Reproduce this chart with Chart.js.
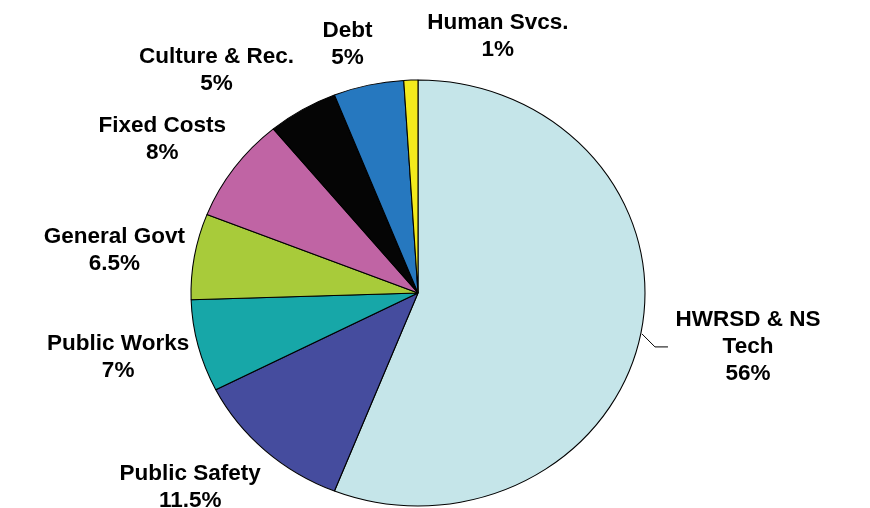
<!DOCTYPE html>
<html>
<head>
<meta charset="utf-8">
<script src="https://cdn.jsdelivr.net/npm/chart.js@4"></script>
<style>
  html, body { margin: 0; padding: 0; background: #fff; }
  #wrap { width: 870px; height: 508px; }
</style>
</head>
<body>
<div id="wrap"><canvas id="budget-pie" width="870" height="508"></canvas></div>
<script>
// budget share by function, clockwise from 12 o'clock
const categories = [
  ["HWRSD & NS", "Tech"],
  ["Public Safety"],
  ["Public Works"],
  ["General Govt"],
  ["Fixed Costs"],
  ["Culture & Rec."],
  ["Debt"],
  ["Human Svcs."],
];
const shares = [56, 11.5, 7, 6.5, 8, 5, 5, 1];
const sliceColors = ["#c5e5e9", "#454c9e", "#17a7a8", "#a8cb3a", "#c064a4", "#050505", "#2678bf", "#f3ea1c"];

// label block centre, relative to the slice's mid-point on the rim
const labelOffsets = [[107, 14], [-75, 37], [-80, 11], [-80, -6], [-72, -29], [-86, -39], [-21, -41], [87, -44]];

const PIE_R = 213;          // vertical radius
const STRETCH = 227 / 213;  // pie is drawn a little wider than tall
const FONT = "bold 22.5px 'Liberation Sans', Arial, sans-serif";
const LINE_H = 27;

const stretchPie = {
  id: "stretchPie",
  beforeDatasetsDraw(chart) {
    const arc = chart.getDatasetMeta(0).data[0];
    const ctx = chart.ctx;
    ctx.save();
    ctx.translate(arc.x, arc.y);
    ctx.scale(STRETCH, 1);
    ctx.translate(-arc.x, -arc.y);
  },
  afterDatasetsDraw(chart) {
    chart.ctx.restore();
  },
};

const sliceLabels = {
  id: "sliceLabels",
  afterDraw(chart) {
    const ctx = chart.ctx;
    const arcs = chart.getDatasetMeta(0).data;
    ctx.save();
    ctx.font = FONT;
    ctx.fillStyle = "#000";
    ctx.textAlign = "center";
    ctx.textBaseline = "middle";
    arcs.forEach((arc, i) => {
      const mid = (arc.startAngle + arc.endAngle) / 2;
      const rx = arc.outerRadius * STRETCH, ry = arc.outerRadius;
      const ex = arc.x + Math.cos(mid) * rx;
      const ey = arc.y + Math.sin(mid) * ry;
      const lines = [...categories[i], shares[i] + "%"];
      const [ox, oy] = labelOffsets[i];
      const cx = ex + ox, cy = ey + oy;

      if (i === 0) {
        // leader from the rim out to the label
        ctx.strokeStyle = "#000";
        ctx.lineWidth = 1;
        ctx.beginPath();
        ctx.moveTo(ex + 1, ey + 1);
        ctx.lineTo(ex + 14, ey + 14);
        ctx.lineTo(ex + 27, ey + 14);
        ctx.stroke();
      }

      const top = cy - (lines.length - 1) * LINE_H / 2;
      lines.forEach((t, k) => ctx.fillText(t, cx, top + k * LINE_H));
    });
    ctx.restore();
  },
};

new Chart(document.getElementById("budget-pie"), {
  type: "pie",
  data: {
    labels: categories.map(c => c.join(" ")),
    datasets: [{
      data: shares,
      backgroundColor: sliceColors,
      borderColor: "#000",
      borderWidth: 1,
      radius: PIE_R,
    }],
  },
  options: {
    responsive: false,
    animation: false,
    layout: { padding: { left: 0, right: 34, top: 78, bottom: 0 } },
    plugins: { legend: { display: false }, tooltip: { enabled: false } },
  },
  plugins: [stretchPie, sliceLabels],
});
</script>
</body>
</html>
